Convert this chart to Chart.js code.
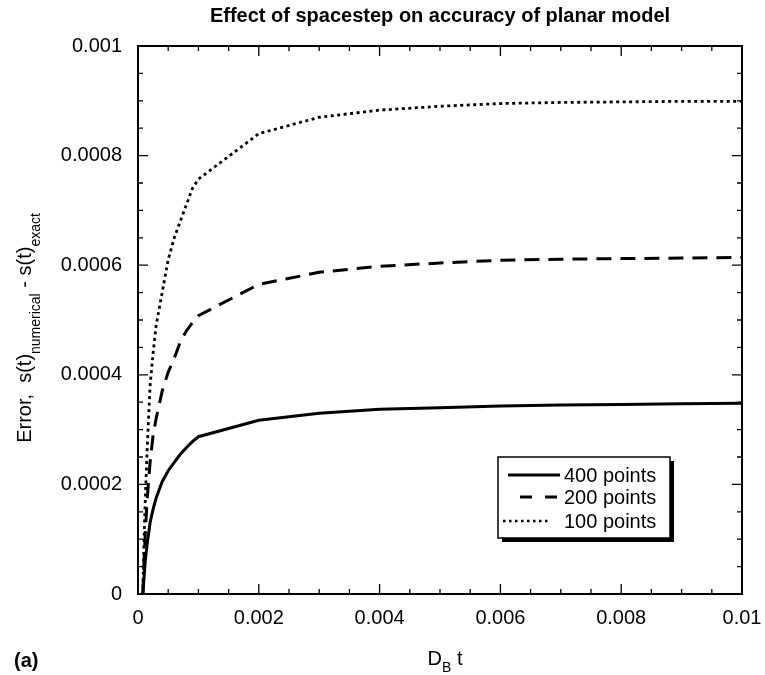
<!DOCTYPE html>
<html>
<head>
<meta charset="utf-8">
<script src="https://cdn.jsdelivr.net/npm/chart.js@4.4.1/dist/chart.umd.min.js"></script>
<style>
  html, body { margin: 0; padding: 0; background: #fff; }
  #c { display: block; }
</style>
</head>
<body>
<canvas id="c" width="765" height="675"></canvas>
<script>
// ---- data ----
const timeValues = [0.00008, 0.0001, 0.00012, 0.00015, 0.0002, 0.00025, 0.0003, 0.0004, 0.0005, 0.0006,
  0.0007, 0.0008, 0.0009, 0.001, 0.002, 0.003, 0.004, 0.005, 0.006, 0.007, 0.008, 0.009, 0.01];
const err400 = [0, 0.00003, 0.00006, 0.00009, 0.00013, 0.000155, 0.000175, 0.000205, 0.000225, 0.00024,
  0.000255, 0.000267, 0.000278, 0.000287, 0.000317, 0.00033, 0.000337, 0.00034, 0.000343, 0.000345, 0.000346, 0.000347, 0.000348];
const err200 = [0, 0.00006, 0.00011, 0.00017, 0.00024, 0.00029, 0.00032, 0.00037, 0.000405, 0.00043,
  0.00046, 0.00048, 0.000495, 0.000508, 0.000565, 0.000587, 0.000598, 0.000604, 0.000609, 0.000611, 0.000612, 0.000613, 0.000614];
const err100 = [0, 0.0001, 0.00017, 0.00026, 0.00038, 0.00044, 0.00049, 0.00055, 0.00061, 0.00065,
  0.00068, 0.00071, 0.00074, 0.000757, 0.00084, 0.00087, 0.000883, 0.00089, 0.000895, 0.000897, 0.000898, 0.000899, 0.000899];
const seriesLabels = ['400 points', '200 points', '100 points'];
const xTickLabels = ['0', '0.002', '0.004', '0.006', '0.008', '0.01'];
const yTickLabels = ['0', '0.0002', '0.0004', '0.0006', '0.0008', '0.001'];
const titleText = 'Effect of spacestep on accuracy of planar model';

// ---- styles ----
const FONT = '"Liberation Sans", Arial, Helvetica, sans-serif';
const dashes = [[], [15, 9], [3, 3.5]];
const widths = [3, 3, 2.8];

function pts(arr) { return timeValues.map((t, i) => ({ x: t, y: arr[i] })); }

const decorPlugin = {
  id: 'decor',
  afterDraw(chart) {
    const ctx = chart.ctx;
    const a = chart.chartArea;
    const xs = chart.scales.x, ys = chart.scales.y;
    ctx.save();
    ctx.strokeStyle = '#000';
    ctx.fillStyle = '#000';
    // frame
    ctx.lineWidth = 2;
    ctx.strokeRect(a.left, a.top, a.right - a.left, a.bottom - a.top);
    // inward ticks
    ctx.lineWidth = 1.3;
    ctx.beginPath();
    for (let i = 0; i <= 20; i++) {
      const v = i * 0.0005;
      const px = xs.getPixelForValue(v);
      const len = (i % 4 === 0) ? 10 : 5;
      ctx.moveTo(px, a.bottom); ctx.lineTo(px, a.bottom - len);
      ctx.moveTo(px, a.top); ctx.lineTo(px, a.top + len);
    }
    for (let i = 0; i <= 20; i++) {
      const v = i * 0.00005;
      const py = ys.getPixelForValue(v);
      const len = (i % 4 === 0) ? 10 : 5;
      ctx.moveTo(a.left, py); ctx.lineTo(a.left + len, py);
      ctx.moveTo(a.right, py); ctx.lineTo(a.right - len, py);
    }
    ctx.stroke();

    // title
    ctx.font = 'bold 20px ' + FONT;
    ctx.textAlign = 'center';
    ctx.textBaseline = 'alphabetic';
    ctx.fillText(titleText, (a.left + a.right) / 2, 22);

    // x axis title D_B t
    ctx.textAlign = 'left';
    const mainF = '20px ' + FONT, subF = '14px ' + FONT;
    const xParts = [['D', mainF, 0], ['B', subF, 7], [' t', mainF, 0]];
    let totalX = 0;
    xParts.forEach(p => { ctx.font = p[1]; totalX += ctx.measureText(p[0]).width; });
    let cx = (a.left + a.right) / 2 - totalX / 2 + 5;
    xParts.forEach(p => { ctx.font = p[1]; ctx.fillText(p[0], cx, 665 + p[2]); cx += ctx.measureText(p[0]).width; });

    // (a)
    ctx.font = 'bold 20px ' + FONT;
    ctx.fillText('(a)', 14, 667);

    // y axis title
    const yParts = [['Error,  s(t)', mainF, 0], ['numerical', subF, 9], [' - s(t)', mainF, 0], ['exact', subF, 9]];
    let totalY = 0;
    yParts.forEach(p => { ctx.font = p[1]; totalY += ctx.measureText(p[0]).width; });
    ctx.save();
    ctx.translate(31, 328);
    ctx.rotate(-Math.PI / 2);
    let cy = -totalY / 2;
    yParts.forEach(p => { ctx.font = p[1]; ctx.fillText(p[0], cy, p[2]); cy += ctx.measureText(p[0]).width; });
    ctx.restore();

    // legend box with shadow
    const bx = 498, by = 457, bw = 172, bh = 81;
    ctx.fillRect(bx + 4, by + 4, bw, bh);
    ctx.fillStyle = '#fff';
    ctx.fillRect(bx, by, bw, bh);
    ctx.fillStyle = '#000';
    ctx.lineWidth = 1.5;
    ctx.strokeRect(bx, by, bw, bh);
    const rows = [475, 497, 521];
    const samples = [[508, 560], [520, 557], [503, 550]];
    ctx.font = '20px ' + FONT;
    ctx.textAlign = 'left';
    ctx.textBaseline = 'middle';
    for (let i = 0; i < 3; i++) {
      ctx.setLineDash(i === 1 ? [12, 13] : (i === 2 ? [2.5, 3.5] : dashes[i]));
      ctx.lineWidth = i === 2 ? 2.5 : widths[i];
      ctx.beginPath();
      ctx.moveTo(samples[i][0], rows[i]);
      ctx.lineTo(samples[i][1], rows[i]);
      ctx.stroke();
      ctx.setLineDash([]);
      ctx.fillText(seriesLabels[i], 564, rows[i] + 1);
    }
    ctx.restore();
  }
};

new Chart(document.getElementById('c'), {
  type: 'line',
  data: {
    datasets: [
      { label: seriesLabels[0], data: pts(err400), borderColor: '#000', borderWidth: widths[0], borderDash: dashes[0], pointRadius: 0, tension: 0, fill: false },
      { label: seriesLabels[1], data: pts(err200), borderColor: '#000', borderWidth: widths[1], borderDash: dashes[1], pointRadius: 0, tension: 0, fill: false },
      { label: seriesLabels[2], data: pts(err100), borderColor: '#000', borderWidth: widths[2], borderDash: dashes[2], pointRadius: 0, tension: 0, fill: false }
    ]
  },
  options: {
    responsive: false,
    animation: false,
    devicePixelRatio: 1,
    layout: { padding: { left: 0, top: 46, right: 23, bottom: 0 } },
    plugins: { legend: { display: false }, tooltip: { enabled: false }, title: { display: false } },
    scales: {
      x: {
        type: 'linear', min: 0, max: 0.01,
        grid: { display: false, drawTicks: false },
        border: { display: false },
        ticks: { stepSize: 0.002, maxRotation: 0, padding: 12, color: '#000', font: { size: 20, family: FONT },
          callback: (v, i) => xTickLabels[i] },
        afterFit: s => { s.height = 81; s.paddingLeft = 0; s.paddingRight = 0; }
      },
      y: {
        type: 'linear', min: 0, max: 0.001,
        grid: { display: false, drawTicks: false },
        border: { display: false },
        ticks: { stepSize: 0.0002, padding: 16, color: '#000', font: { size: 20, family: FONT },
          callback: (v, i) => yTickLabels[i] },
        afterFit: s => { s.width = 138; s.paddingTop = 0; s.paddingBottom = 0; }
      }
    }
  },
  plugins: [decorPlugin]
});
</script>
</body>
</html>
